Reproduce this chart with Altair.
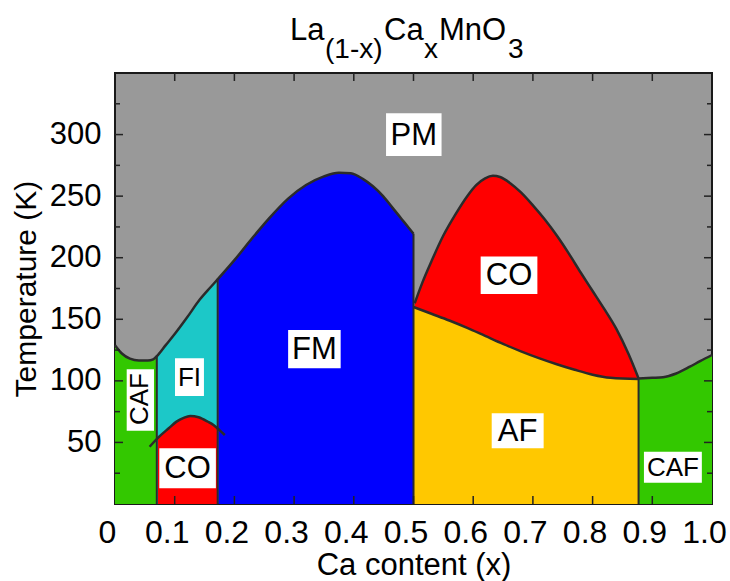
import altair as alt
import pandas as pd

# ---------------- data (x = Ca content, y = temperature in K) ----------------
caf_left_x = [0.0, 0.012, 0.025, 0.04, 0.055, 0.064, 0.07]
caf_left_y = [129, 122, 118, 116.5, 116.5, 117.5, 120]

fi_x = [0.07, 0.085, 0.1, 0.12, 0.142, 0.16, 0.173]
fi_y = [120, 129, 138, 151, 166, 176, 183]

fm_x = [0.173, 0.2, 0.23, 0.26, 0.29, 0.32, 0.35, 0.375, 0.395, 0.415, 0.432, 0.449, 0.465, 0.48, 0.49, 0.5]
fm_y = [183, 198, 216, 233, 248, 259, 266, 269, 268.5, 264, 258, 250, 240.5, 231.5, 225.5, 219.5]

co_small_x = [0.072, 0.09, 0.103, 0.115, 0.126, 0.14, 0.155, 0.165, 0.172]
co_small_y = [54, 61.5, 66.9, 70, 71.5, 70.4, 67, 64.2, 61.3]
co_small_arc_x = [0.058, 0.074, 0.09, 0.103, 0.115, 0.126, 0.14, 0.155, 0.165, 0.175, 0.184]
co_small_arc_y = [46.5, 54.7, 61.5, 66.9, 70, 71.5, 70.4, 67, 64.2, 60, 56]

co_big_x = [0.502, 0.515, 0.53, 0.55, 0.57, 0.59, 0.605, 0.62, 0.633, 0.645, 0.662, 0.68,
            0.70, 0.72, 0.74, 0.76, 0.78, 0.80, 0.82, 0.84, 0.86, 0.877]
co_big_y = [163, 180, 197, 218, 235, 250, 259, 264.5, 266.5, 265.5, 260.5, 253,
            242.5, 231, 218, 203.5, 188, 173, 158, 142, 122, 102]

af_x = [0.5, 0.53, 0.56, 0.59, 0.62, 0.65, 0.68, 0.71, 0.74, 0.77, 0.80, 0.83, 0.877]
af_y = [160, 154.5, 149, 143, 136.5, 130, 124, 118.5, 113.5, 109, 105, 102.5, 101.5]

caf_right_x = [0.877, 0.9, 0.918, 0.94, 0.963, 0.98, 1.0]
caf_right_y = [102, 102.5, 103, 106, 111.5, 116, 121]

# phase-boundary vertical lines: x and top temperature
vline_x = [0.07, 0.172, 0.5, 0.877]
vline_top = [120, 183, 219.5, 102]

# phase labels (white boxes): text, box x0, x1, y0, y1
lab_text = ["PM", "CO", "FM", "FI", "CO", "AF", "CAF"]
lab_x0 = [0.454, 0.6125, 0.290, 0.1005, 0.0742, 0.631, 0.886]
lab_x1 = [0.547, 0.7075, 0.378, 0.149, 0.169, 0.718, 0.983]
lab_y0 = [282.7, 170.6, 110.2, 87.7, 12.8, 45.2, 17.3]
lab_y1 = [317.4, 200.9, 141.4, 118.4, 45.2, 73.7, 42.5]
lab_size = [31, 31, 31, 26, 31, 31, 26]

vlab_text = ["CAF"]
vlab_x0 = [0.0196]
vlab_x1 = [0.0653]
vlab_y0 = [59.5]
vlab_y1 = [109.4]

# title pieces: text, left x, baseline y, font size
title_text = ["La", "(1-x)", "Ca", "x", "MnO", "3"]
title_x = [0.2931, 0.3518, 0.4506, 0.5176, 0.5427, 0.6583]
title_y = [376.9, 362.3, 376.9, 362.3, 376.9, 362.3]
title_fs = [31, 28, 31, 28, 31, 28]

x_ticks = [0.1, 0.2, 0.3, 0.4, 0.5, 0.6, 0.7, 0.8, 0.9]
x_labels = [0, 0.1, 0.2, 0.3, 0.4, 0.5, 0.6, 0.7, 0.8, 0.9, 1.0]
y_major = [50, 100, 150, 200, 250, 300]
y_minor = [25, 75, 125, 175, 225, 275, 325]

X_DOM = [0, 1]
Y_DOM = [0, 350]

# ---------------- colours ----------------
GRAY = "#999999"
GREEN = "#33C800"
CYAN = "#1CC8C8"
BLUE = "#0000FF"
RED = "#FF0000"
YELLOW = "#FFC800"
LINE = "#2b2b2b"
FONT = "Liberation Sans"

xs = alt.Scale(domain=X_DOM, nice=False, zero=False)
ys = alt.Scale(domain=Y_DOM, nice=False, zero=False)


def area(xv, yv, color):
    df = pd.DataFrame({"x": xv, "y": yv, "y0": [0] * len(xv)})
    return alt.Chart(df).mark_area(color=color, opacity=1, interpolate="monotone").encode(
        x=alt.X("x:Q", scale=xs), y=alt.Y("y:Q", scale=ys), y2="y0:Q")


base_x = alt.X(
    "x:Q", scale=xs,
    axis=alt.Axis(values=x_labels, labelExpr="datum.value == 0 ? '0' : format(datum.value, '.1f')",
                  ticks=False, domain=False, grid=False, labelPadding=13, labelFontSize=32,
                  labelFlush=False, labelOverlap=False, labelOffset=-8,
                  title="Ca content (x)", titleFontSize=31, titlePadding=2,
                  titleFontWeight="normal", labelColor="#000", titleColor="#000"))
base_y = alt.Y(
    "y:Q", scale=ys,
    axis=alt.Axis(values=y_major, ticks=False, domain=False, grid=False, labelPadding=14,
                  labelFontSize=31, labelFlush=False, labelOverlap=False,
                  title="Temperature (K)", titleFontSize=30, titlePadding=8,
                  titleFontWeight="normal", labelColor="#000", titleColor="#000"))

# first layer carries axes: green left region
df_cafl = pd.DataFrame({"x": caf_left_x, "y": caf_left_y, "y0": [0] * len(caf_left_x)})
layer_cafl = alt.Chart(df_cafl).mark_area(color=GREEN, opacity=1, interpolate="monotone").encode(
    x=base_x, y=base_y, y2="y0:Q")

layers = [
    layer_cafl,
    area(fi_x, fi_y, CYAN),
    area(co_small_x, co_small_y, RED),
    area(fm_x, fm_y, BLUE),
    area(co_big_x, co_big_y, RED),
    area(af_x, af_y, YELLOW),
    area(caf_right_x, caf_right_y, GREEN),
]

# boundary curves
curves = []
pm_x = caf_left_x + fi_x[1:] + fm_x[1:]
pm_y = caf_left_y + fi_y[1:] + fm_y[1:]
for name, cx, cy in [("pm", pm_x, pm_y), ("co", co_big_x, co_big_y), ("af", af_x, af_y),
                     ("cafr", caf_right_x, caf_right_y), ("cos", co_small_arc_x, co_small_arc_y)]:
    for i, (a, b) in enumerate(zip(cx, cy)):
        curves.append({"seg": name, "i": i, "x": a, "y": b})
df_curves = pd.DataFrame(curves)
layers.append(alt.Chart(df_curves).mark_line(color=LINE, strokeWidth=2.5, interpolate="monotone").encode(
    x=alt.X("x:Q", scale=xs), y=alt.Y("y:Q", scale=ys), detail="seg:N", order="i:Q"))

df_v = pd.DataFrame({"x": vline_x, "y": vline_top, "y0": [0] * len(vline_x)})
layers.append(alt.Chart(df_v).mark_rule(color=LINE, strokeWidth=2).encode(
    x=alt.X("x:Q", scale=xs), y=alt.Y("y:Q", scale=ys), y2="y0:Q"))

# inward tick marks
tick_rows = []
xt_len = 6.5
for t in x_ticks:
    tick_rows.append({"x": t, "x2": t, "y": 0, "y2": xt_len})
    tick_rows.append({"x": t, "x2": t, "y": Y_DOM[1] - xt_len, "y2": Y_DOM[1]})
for t in y_major:
    tick_rows.append({"x": 0, "x2": 0.0134, "y": t, "y2": t})
    tick_rows.append({"x": 1 - 0.0134, "x2": 1, "y": t, "y2": t})
for t in y_minor:
    tick_rows.append({"x": 0, "x2": 0.0084, "y": t, "y2": t})
    tick_rows.append({"x": 1 - 0.0084, "x2": 1, "y": t, "y2": t})
df_ticks = pd.DataFrame(tick_rows)
layers.append(alt.Chart(df_ticks).mark_rule(color="#222", strokeWidth=1.5).encode(
    x=alt.X("x:Q", scale=xs), x2="x2:Q", y=alt.Y("y:Q", scale=ys), y2="y2:Q"))

# label boxes and texts
df_lab = pd.DataFrame({"t": lab_text, "x0": lab_x0, "x1": lab_x1, "y0": lab_y0, "y1": lab_y1, "fs": lab_size})
df_lab["xc"] = (df_lab.x0 + df_lab.x1) / 2
df_lab["yc"] = (df_lab.y0 + df_lab.y1) / 2
df_vlab = pd.DataFrame({"t": vlab_text, "x0": vlab_x0, "x1": vlab_x1, "y0": vlab_y0, "y1": vlab_y1})
df_vlab["xc"] = (df_vlab.x0 + df_vlab.x1) / 2
df_vlab["yc"] = (df_vlab.y0 + df_vlab.y1) / 2

for d in (df_lab, df_vlab):
    layers.append(alt.Chart(d).mark_rect(color="white").encode(
        x=alt.X("x0:Q", scale=xs), x2="x1:Q", y=alt.Y("y0:Q", scale=ys), y2="y1:Q"))

layers.append(alt.Chart(df_lab).mark_text(font=FONT, color="black", baseline="middle", align="center", dy=1).encode(
    x=alt.X("xc:Q", scale=xs), y=alt.Y("yc:Q", scale=ys), text="t:N", size=alt.Size("fs:Q", scale=None)))
layers.append(alt.Chart(df_vlab).mark_text(font=FONT, color="black", baseline="middle", align="center",
                                           angle=270, fontSize=26, dx=1).encode(
    x=alt.X("xc:Q", scale=xs), y=alt.Y("yc:Q", scale=ys), text="t:N"))

# chart title with subscripts
df_title = pd.DataFrame({"t": title_text, "x": title_x, "y": title_y, "fs": title_fs})
layers.append(alt.Chart(df_title).mark_text(font=FONT, color="black", baseline="alphabetic", align="left").encode(
    x=alt.X("x:Q", scale=xs), y=alt.Y("y:Q", scale=ys), text="t:N", size=alt.Size("fs:Q", scale=None)))

chart = alt.layer(*layers).properties(
    width=597, height=431,
    autosize=alt.AutoSizeParams(type="none"),
    padding={"left": 115, "top": 73, "right": 18, "bottom": 77},
    background="white",
).configure_view(
    fill=GRAY, stroke="#1a1a1a", strokeWidth=2
).configure_axis(
    labelFont=FONT, titleFont=FONT
)

chart.save("out.html", embed_options={"renderer": "svg", "actions": False})
